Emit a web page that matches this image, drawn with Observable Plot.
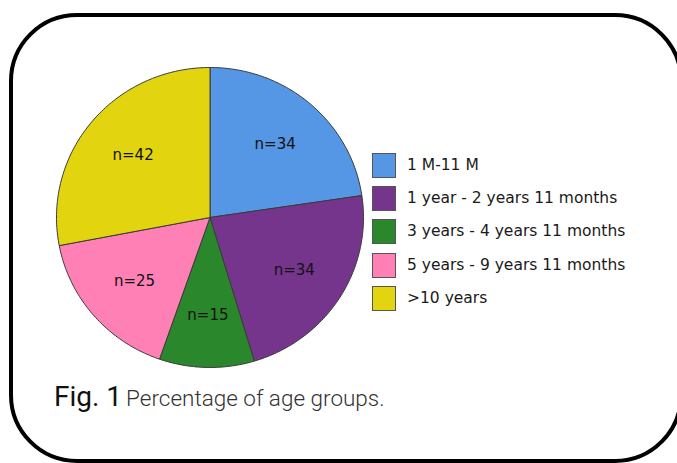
<!DOCTYPE html>
<html>
<head>
<meta charset="utf-8">
<script src="https://cdn.jsdelivr.net/npm/d3@7"></script>
<script src="https://cdn.jsdelivr.net/npm/@observablehq/plot@0.6"></script>
<style>
  html, body { margin: 0; padding: 0; background: #fff; }
  #page { position: relative; width: 677px; height: 463px; overflow: hidden; background: #fff; }
  #frame { position: absolute; left: 9px; top: 13px; width: 674px; height: 450px; box-sizing: border-box;
           border: 4px solid #000; border-radius: 68px; }
  #chart { position: absolute; left: 46px; top: 57px; }
  #legend { position: absolute; left: 372px; top: 153px; font-family: "DejaVu Sans", sans-serif; font-size: 15.5px; color: #1a1a1a; }
  .row { position: absolute; left: 0; height: 25px; white-space: nowrap; }
  .sw { position: absolute; left: 0; top: 0; width: 24px; height: 25px; box-sizing: border-box; border: 1px solid #555; }
  .lab { position: absolute; left: 35px; top: 0; line-height: 25px; }
  #caption { position: absolute; left: 54px; top: 380px; white-space: nowrap; }
  #caption .fig { font-family: Roboto, sans-serif; font-size: 28px; color: #111; }
  #caption .txt { font-family: Roboto, sans-serif; font-weight: 300; font-size: 22.5px; color: #333; }
</style>
</head>
<body>
<div id="page">
  <div id="frame"></div>
  <div id="chart"></div>
  <div id="legend"></div>
  <div id="caption"><span class="fig">Fig. 1</span> <span class="txt">Percentage of age groups.</span></div>
</div>
<script>
const categories = ["1 M-11 M", "1 year - 2 years 11 months", "3 years - 4 years 11 months", "5 years - 9 years 11 months", ">10 years"];
const counts = [34, 34, 15, 25, 42];
const sliceLabels = ["n=34", "n=34", "n=15", "n=25", "n=42"];
const colors = ["#5596e5", "#75358d", "#2b872b", "#fe80b4", "#e2d510"];

const arcs = d3.pie().sort(null).value(d => d)(counts);

const wedgePoints = [];
const labelPoints = [];
arcs.forEach((a, i) => {
  const cat = categories[i];
  const steps = Math.max(2, Math.ceil((a.endAngle - a.startAngle) / (Math.PI / 180)));
  wedgePoints.push({category: cat, x: 0, y: 0});
  for (let s = 0; s <= steps; s++) {
    const t = a.startAngle + (a.endAngle - a.startAngle) * s / steps;
    wedgePoints.push({category: cat, x: Math.sin(t), y: Math.cos(t)});
  }
  wedgePoints.push({category: cat, x: 0, y: 0});
  const mid = (a.startAngle + a.endAngle) / 2;
  labelPoints.push({text: sliceLabels[i], x: 0.65 * Math.sin(mid), y: 0.65 * Math.cos(mid)});
});

const chart = Plot.plot({
  width: 327,
  height: 320,
  margin: 10,
  style: {background: "transparent", overflow: "visible"},
  x: {domain: [-1, 1], axis: null},
  y: {domain: [-1, 1], axis: null},
  color: {domain: categories, range: colors},
  marks: [
    Plot.line(wedgePoints, {x: "x", y: "y", z: "category", fill: "category", stroke: "#3a3a3a", strokeWidth: 1, curve: "linear", strokeLinejoin: "round"}),
    Plot.text(labelPoints, {x: "x", y: "y", text: "text", fontSize: 15, fill: "#111", fontFamily: "DejaVu Sans, sans-serif"})
  ]
});
document.getElementById("chart").appendChild(chart);

const legend = document.getElementById("legend");
categories.forEach((c, i) => {
  const row = document.createElement("div");
  row.className = "row";
  row.style.top = (i * 33.2) + "px";
  const sw = document.createElement("div");
  sw.className = "sw";
  sw.style.background = colors[i];
  const lab = document.createElement("div");
  lab.className = "lab";
  lab.textContent = c;
  row.appendChild(sw);
  row.appendChild(lab);
  legend.appendChild(row);
});
</script>
</body>
</html>
